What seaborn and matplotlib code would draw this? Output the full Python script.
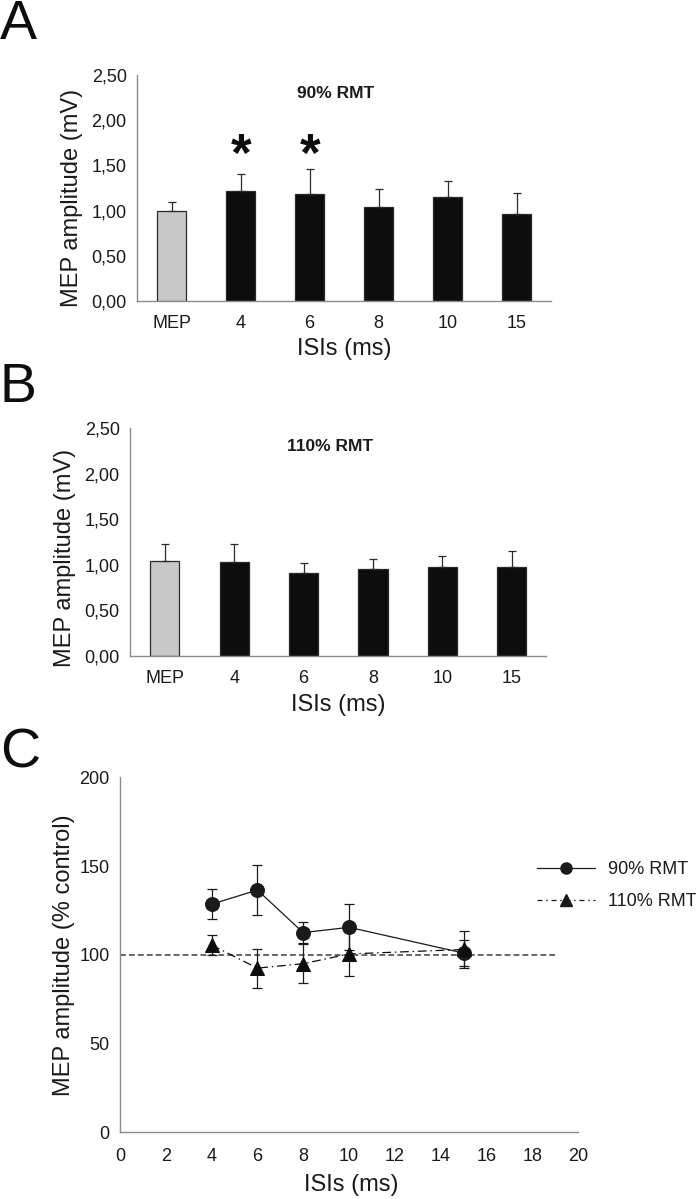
import matplotlib
matplotlib.use('Agg')
import matplotlib.pyplot as plt
import seaborn as sns
import numpy as np
from matplotlib.lines import Line2D

# Data
labels = ['MEP', '4', '6', '8', '10', '15']
a_mean = [1.00, 1.22, 1.18, 1.04, 1.15, 0.96]
a_err = [0.10, 0.19, 0.28, 0.20, 0.18, 0.23]
b_mean = [1.04, 1.03, 0.91, 0.96, 0.98, 0.98]
b_err = [0.19, 0.20, 0.11, 0.10, 0.12, 0.17]
a_signif = ['4', '6']
star_y = 1.59

isi = [4, 6, 8, 10, 15]
rmt90 = [128.5, 136.5, 112.5, 115.5, 101.0]
rmt90_err = [8.5, 14.0, 6.0, 13.0, 7.5]
rmt110 = [105.5, 92.5, 95.0, 100.5, 103.0]
rmt110_err = [5.5, 11.0, 11.0, 12.5, 10.5]

sns.set_style('white')
plt.rcParams['font.family'] = ['Liberation Sans', 'DejaVu Sans']

spine_c = '#8c8c8c'
text_c = '#1a1a1a'
bar_colors = ['#c8c8c8'] + ['#0d0d0d'] * 5

fig = plt.figure(figsize=(6.96, 11.99), dpi=100)


def style_axes(ax):
    sns.despine(ax=ax)
    for s in ['left', 'bottom']:
        ax.spines[s].set_color(spine_c)
        ax.spines[s].set_linewidth(1.0)
    ax.tick_params(axis='both', colors=spine_c, labelcolor=text_c,
                   labelsize=13, direction='out', length=4, width=1.0)


def bar_panel(rect, means, errs, title, ylab_y):
    ax = fig.add_axes(rect)
    sns.barplot(x=labels, y=means, hue=labels, palette=bar_colors, legend=False,
                width=0.42, edgecolor='#2a2a2a', linewidth=0.9, ax=ax)
    pos = np.arange(len(labels))
    ax.errorbar(pos, means, yerr=[np.zeros(len(errs)), errs], fmt='none',
                ecolor='#2a2a2a', elinewidth=0.9, capsize=3, capthick=0.9)
    ax.set_ylim(0, 2.5)
    ax.set_xlim(-0.5, len(labels) - 0.5)
    ax.set_yticks(np.arange(0, 2.51, 0.5))
    ax.set_yticklabels([f'{v:.2f}'.replace('.', ',') for v in np.arange(0, 2.51, 0.5)])
    style_axes(ax)
    ax.set_xticks(pos)
    ax.set_xticks(np.arange(len(labels) + 1) - 0.5, minor=True)
    ax.tick_params(axis='x', which='major', length=0, pad=10)
    ax.tick_params(axis='x', which='minor', length=5, width=1.0, colors=spine_c)
    ax.set_ylabel('MEP amplitude (mV)', fontsize=17, color=text_c)
    ax.set_xlabel('ISIs (ms)', fontsize=17, color=text_c)
    ax.yaxis.set_label_coords(-0.13, ylab_y)
    ax.xaxis.set_label_coords(0.5, -0.165)
    ax.text(0.48, 0.92, title, transform=ax.transAxes, ha='center', va='center',
            fontsize=12.5, fontweight='bold', color=text_c)
    return ax


axA = bar_panel([0.197, 0.749, 0.595, 0.1884], a_mean, a_err, '90% RMT', 0.456)
for lab in a_signif:
    axA.text(labels.index(lab), star_y, '*', ha='center', va='center',
             fontsize=38, fontweight='bold', color='#0d0d0d')

axB = bar_panel([0.187, 0.4529, 0.598, 0.1899], b_mean, b_err, '110% RMT', 0.43)

# Panel C
axC = fig.add_axes([0.1724, 0.0556, 0.6581, 0.2961])
axC.plot([0, 19], [100, 100], linestyle=(0, (3, 1.6)), color='#666666', linewidth=1.4, zorder=1)
axC.errorbar(isi, rmt90, yerr=rmt90_err, fmt='none', ecolor='#1a1a1a',
             elinewidth=0.9, capsize=3.5, capthick=0.9, zorder=2)
axC.errorbar(isi, rmt110, yerr=rmt110_err, fmt='none', ecolor='#1a1a1a',
             elinewidth=0.9, capsize=3.5, capthick=0.9, zorder=2)
sns.lineplot(x=isi, y=rmt90, marker='o', markersize=10, color='#1a1a1a',
             markeredgecolor='#1a1a1a', linewidth=0.9, ax=axC, zorder=3)
sns.lineplot(x=isi, y=rmt110, marker='^', markersize=10.5, color='#0d0d0d',
             markeredgecolor='#0d0d0d', linewidth=0.9, linestyle=(0, (7, 3, 1.2, 3)),
             ax=axC, zorder=3)
axC.set_xlim(0, 20)
axC.set_ylim(0, 200)
axC.set_xticks(np.arange(0, 21, 2))
axC.set_yticks(np.arange(0, 201, 50))
style_axes(axC)
axC.tick_params(axis='x', pad=7)
axC.set_ylabel('MEP amplitude (% control)', fontsize=17, color=text_c)
axC.set_xlabel('ISIs (ms)', fontsize=17, color=text_c)
axC.yaxis.set_label_coords(-0.098, 0.5)
axC.xaxis.set_label_coords(0.505, -0.118)

handles = [Line2D([0], [0], color='#1a1a1a', linewidth=0.9, marker='o', markersize=8),
           Line2D([0], [0], color='#1a1a1a', linewidth=0.9, marker='^', markersize=8.5,
                  linestyle=(0, (4, 3, 1.2, 3)))]
fig.legend(handles, ['90% RMT', '110% RMT'], loc='upper left',
           bbox_to_anchor=(0.772, 0.2815), frameon=False, fontsize=13,
           handlelength=3.2, handletextpad=0.7, labelspacing=0.8,
           borderpad=0, borderaxespad=0, labelcolor=text_c)

# Panel letters
for letter, yb in [('A', 0.9675), ('B', 0.6647), ('C', 0.3595)]:
    fig.text(0.0, yb, letter, fontsize=40, va='baseline', ha='left', color='#0d0d0d')

fig.savefig('out.png', dpi=100)
